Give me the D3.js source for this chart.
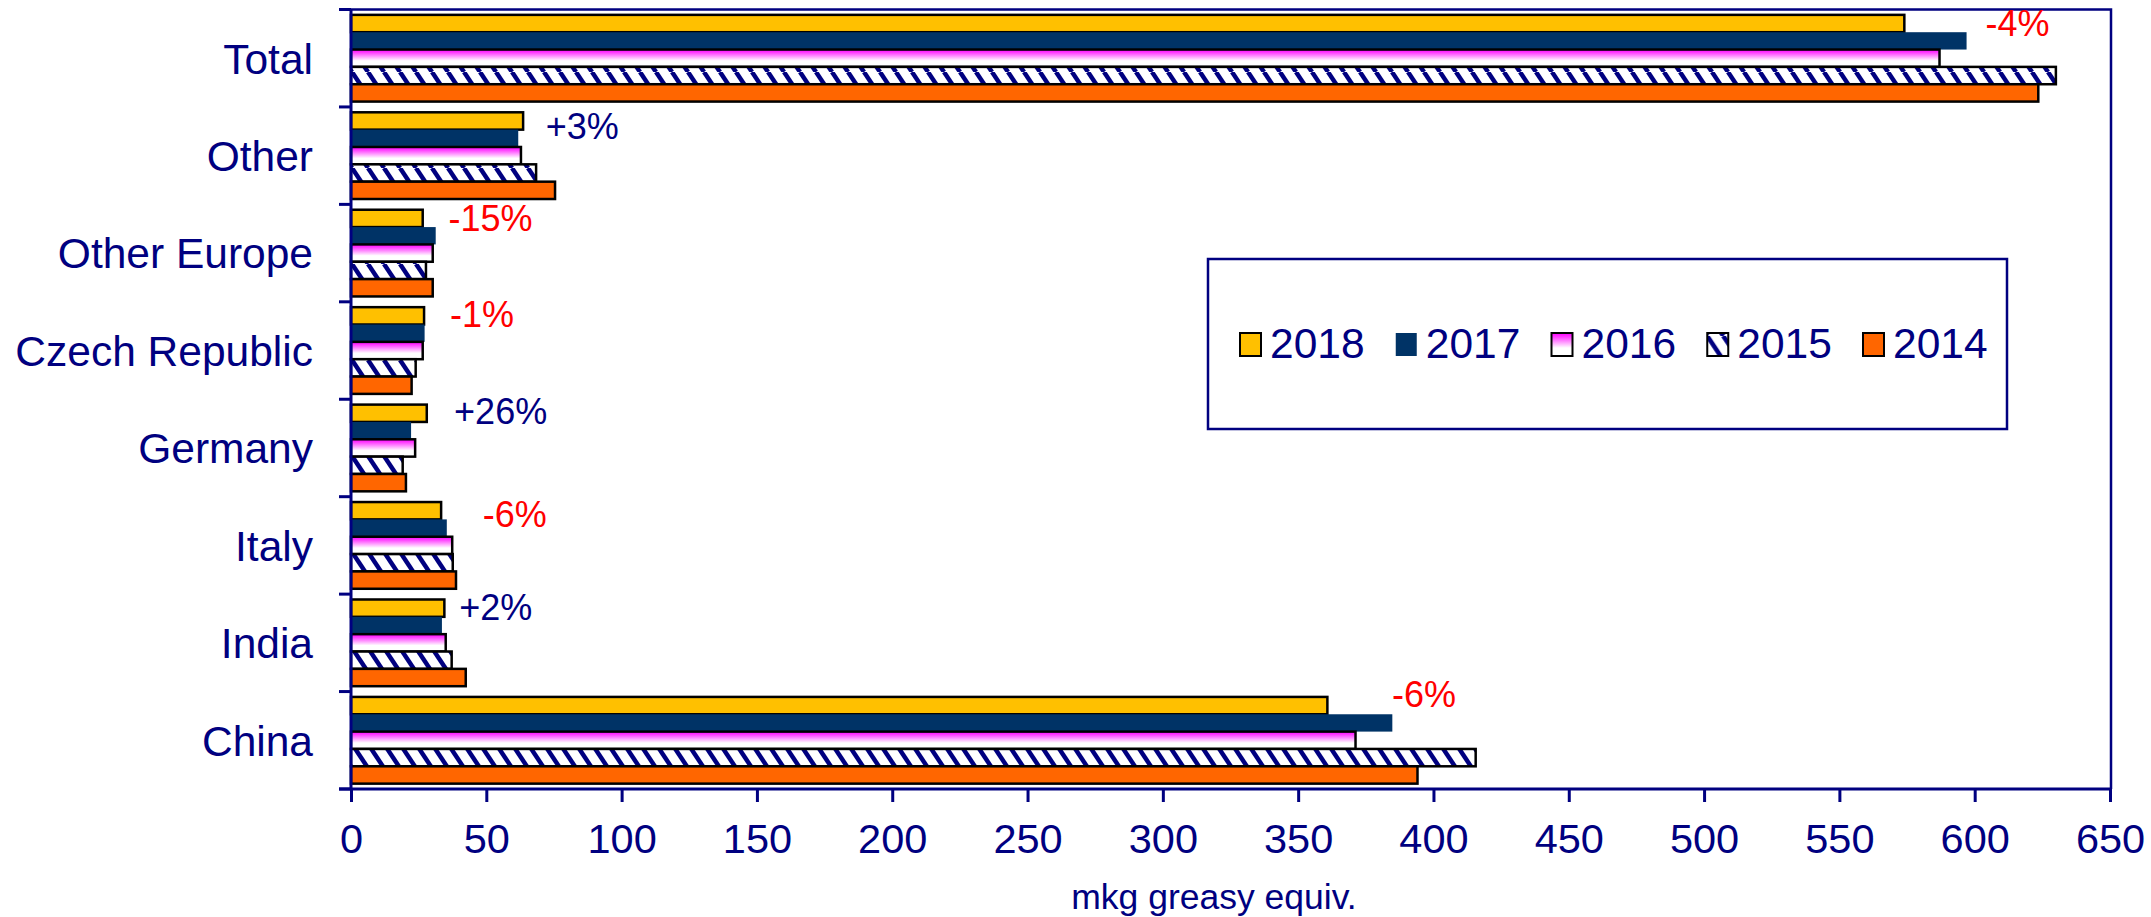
<!DOCTYPE html>
<html>
<head>
<meta charset="utf-8">
<script src="https://cdn.jsdelivr.net/npm/d3@7"></script>
<style>
  html, body { margin: 0; padding: 0; background: #ffffff; }
  svg { display: block; }
  text { font-family: "Liberation Sans", Arial, sans-serif; }
</style>
</head>
<body>
<svg id="chart" width="2151" height="917"></svg>
<script>
(function () {
// ---- data ----
const categories = ["Total", "Other", "Other Europe", "Czech Republic", "Germany", "Italy", "India", "China"];
const years = ["2018", "2017", "2016", "2015", "2014"];
const v2018 = [574, 63.6, 26.5, 27.0, 28.0, 33.3, 34.5, 360.8];
const v2017 = [597, 61.8, 31.3, 27.2, 22.2, 35.4, 33.6, 384.8];
const v2016 = [587, 62.8, 30.2, 26.5, 23.7, 37.4, 35.0, 371.2];
const v2015 = [630, 68.4, 27.7, 23.9, 19.1, 37.6, 37.2, 415.6];
const v2014 = [623.5, 75.4, 30.2, 22.4, 20.3, 38.8, 42.4, 394.1];
const changeLabels = ["-4%", "+3%", "-15%", "-1%", "+26%", "-6%", "+2%", "-6%"];
// annotation anchor of each change label, in value units
const changeAt = [604, 72, 36, 36.6, 38.1, 48.7, 40, 384.7];
const xTicks = [0, 50, 100, 150, 200, 250, 300, 350, 400, 450, 500, 550, 600, 650];
const xTitle = "mkg greasy equiv.";

const seriesValues = [v2018, v2017, v2016, v2015, v2014];

// ---- layout ----
const NAVY = "#000080";
const svg = d3.select("#chart");
const pLeft = 351, pRight = 2110, pTop = 9.5, pBottom = 789;

const x = d3.scaleLinear().domain([0, 650]).range([pLeft, pRight]);
const y = d3.scaleBand().domain(categories).range([pTop, pBottom]);
const inner = d3.scaleBand().domain(years).range([0, y.bandwidth()]).paddingInner(0).paddingOuter(0.309);

// ---- defs ----
const defs = svg.append("defs");
const grad = defs.append("linearGradient").attr("id", "g2016")
  .attr("x1", 0).attr("y1", 0).attr("x2", 0).attr("y2", 1);
grad.append("stop").attr("offset", "0").attr("stop-color", "#ff00ff");
grad.append("stop").attr("offset", "0.15").attr("stop-color", "#ff33ff");
grad.append("stop").attr("offset", "0.65").attr("stop-color", "#ffffff");
grad.append("stop").attr("offset", "1").attr("stop-color", "#ffffff");

const pat = defs.append("pattern").attr("id", "p2015")
  .attr("patternUnits", "userSpaceOnUse").attr("width", 16).attr("height", 24);
pat.append("rect").attr("width", 16).attr("height", 24).attr("fill", "#ffffff");
[-16, 0, 16].forEach(dx => {
  pat.append("line").attr("x1", dx).attr("y1", 0).attr("x2", dx + 16).attr("y2", 24)
    .attr("stroke", NAVY).attr("stroke-width", 4.5);
});

const styles = {
  "2018": { fill: "#ffc000", stroke: "#000000" },
  "2017": { fill: "#003366", stroke: "none" },
  "2016": { fill: "url(#g2016)", stroke: "#000000" },
  "2015": { fill: "url(#p2015)", stroke: "#000000" },
  "2014": { fill: "#ff6600", stroke: "#000000" }
};

// ---- bars ----
const barData = [];
categories.forEach((c, i) => {
  years.forEach((yr, j) => {
    barData.push({ cat: c, year: yr, value: seriesValues[j][i] });
  });
});

svg.append("g").selectAll("rect").data(barData).join("rect")
  .attr("x", x(0))
  .attr("y", d => y(d.cat) + inner(d.year))
  .attr("width", d => x(d.value) - x(0))
  .attr("height", inner.bandwidth())
  .attr("fill", d => styles[d.year].fill)
  .attr("stroke", d => styles[d.year].stroke)
  .attr("stroke-width", 2.5);

// ---- plot frame (top + right) ----
svg.append("path")
  .attr("d", `M${pLeft},${pTop}H${pRight + 1}V${pBottom}`)
  .attr("fill", "none").attr("stroke", NAVY).attr("stroke-width", 2.5);

// ---- y axis ----
const yAxis = svg.append("g");
yAxis.append("line").attr("x1", pLeft).attr("x2", pLeft).attr("y1", pTop).attr("y2", pBottom)
  .attr("stroke", NAVY).attr("stroke-width", 3);
const bounds = categories.map(c => y(c)).concat([y.range()[1]]);
yAxis.selectAll("line.tick").data(bounds).join("line").attr("class", "tick")
  .attr("x1", pLeft - 12).attr("x2", pLeft).attr("y1", d => d).attr("y2", d => d)
  .attr("stroke", NAVY).attr("stroke-width", 3);
yAxis.selectAll("text").data(categories).join("text")
  .attr("x", 313)
  .attr("y", d => y(d) + y.bandwidth() / 2)
  .attr("dy", "0.36em")
  .attr("text-anchor", "end")
  .attr("fill", NAVY)
  .attr("font-size", 42.5)
  .text(d => d);

// ---- x axis ----
const xAxis = svg.append("g").attr("transform", `translate(0,${pBottom})`)
  .call(d3.axisBottom(x).tickValues(xTicks).tickSize(13).tickPadding(22).tickFormat(d3.format("d")));
xAxis.select(".domain").remove();
xAxis.selectAll(".tick line").attr("stroke", NAVY).attr("stroke-width", 3);
xAxis.selectAll(".tick text").attr("fill", NAVY).attr("font-size", 41.5)
  .attr("font-family", "'Liberation Sans', Arial, sans-serif");
svg.append("line").attr("x1", pLeft - 12).attr("x2", pRight + 1).attr("y1", pBottom).attr("y2", pBottom)
  .attr("stroke", NAVY).attr("stroke-width", 3);

svg.append("text").attr("x", 1214).attr("y", 909)
  .attr("text-anchor", "middle").attr("fill", NAVY).attr("font-size", 35.5)
  .text(xTitle);

// ---- change labels ----
const labelRow = [0.267, 0.33, 0.27, 0.263, 0.257, 0.31, 0.268, 0.158];
svg.append("g").selectAll("text").data(changeLabels).join("text")
  .attr("x", (d, i) => x(changeAt[i]))
  .attr("y", (d, i) => y(categories[i]) + labelRow[i] * y.bandwidth())
  .attr("fill", d => d.startsWith("-") ? "#ff0000" : NAVY)
  .attr("font-size", 36)
  .text(d => d);

// ---- legend ----
const lg = svg.append("g");
lg.append("rect").attr("x", 1208).attr("y", 259).attr("width", 799).attr("height", 170)
  .attr("fill", "#ffffff").attr("stroke", NAVY).attr("stroke-width", 2.5);
const legX = d3.scalePoint().domain(years).range([1240, 1863]);
const li = lg.selectAll("g.item").data(years).join("g").attr("class", "item")
  .attr("transform", d => `translate(${legX(d)},0)`);
li.append("rect").attr("x", 0).attr("y", 333).attr("width", 21).attr("height", 23)
  .attr("fill", d => styles[d].fill)
  .attr("stroke", d => styles[d].stroke === "none" ? "none" : "#000000")
  .attr("stroke-width", 2);
li.append("text").attr("x", 30).attr("y", 358)
  .attr("fill", NAVY).attr("font-size", 42.5).text(d => d);
})();
</script>
</body>
</html>
